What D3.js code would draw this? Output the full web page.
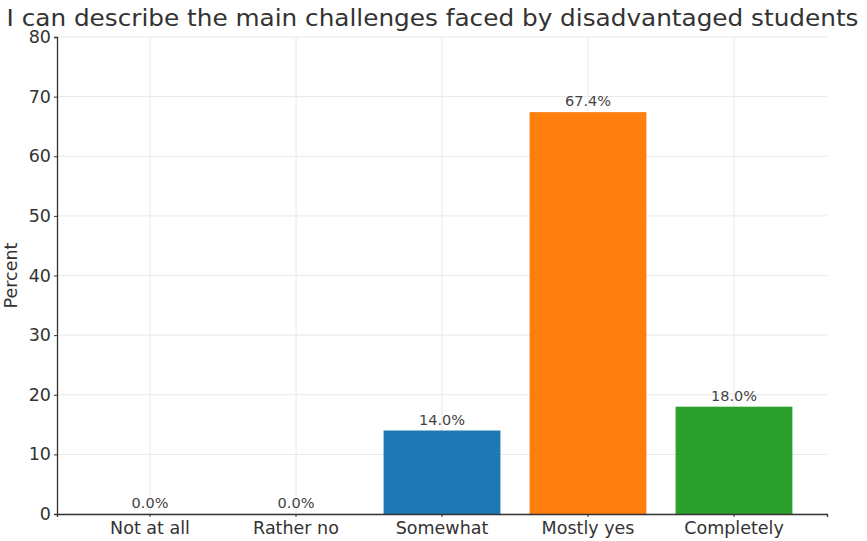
<!DOCTYPE html>
<html>
<head>
<meta charset="utf-8">
<script src="https://cdn.jsdelivr.net/npm/d3@7"></script>
<style>
  html, body { margin: 0; padding: 0; background: #fff; }
  svg { display: block; }
  text { font-family: "DejaVu Sans", sans-serif; }
</style>
</head>
<body>
<svg id="chart" width="867" height="541"></svg>
<script>
// Survey response shares
const categories = ["Not at all", "Rather no", "Somewhat", "Mostly yes", "Completely"];
const percents = [0.0, 0.0, 14.0, 67.4, 18.0];
const barColors = ["#d62728", "#9467bd", "#1f77b4", "#ff7f0e", "#2ca02c"];
const yTicks = [0, 10, 20, 30, 40, 50, 60, 70, 80];
const titleText = "I can describe the main challenges faced by disadvantaged students";

const svg = d3.select("#chart");
const margin = { left: 57, right: 40, top: 37, bottom: 27 };
const W = 867, H = 541;

const x = d3.scaleBand()
  .domain(categories)
  .range([margin.left, W - margin.right])
  .paddingInner(0.2)
  .paddingOuter(0.237);

const y = d3.scaleLinear()
  .domain([0, 80])
  .range([H - margin.bottom, margin.top]);

// grid
const grid = svg.append("g").attr("stroke", "#e8e8e8").attr("stroke-width", 1);
grid.selectAll("line.h").data(yTicks).join("line")
  .attr("x1", margin.left).attr("x2", W - margin.right)
  .attr("y1", d => y(d)).attr("y2", d => y(d));
grid.selectAll("line.v").data(categories).join("line")
  .attr("x1", d => x(d) + x.bandwidth() / 2).attr("x2", d => x(d) + x.bandwidth() / 2)
  .attr("y1", margin.top).attr("y2", H - margin.bottom);

// bars
svg.append("g").selectAll("rect").data(categories).join("rect")
  .attr("x", d => x(d))
  .attr("width", x.bandwidth())
  .attr("y", (d, i) => y(percents[i]))
  .attr("height", (d, i) => y(0) - y(percents[i]))
  .attr("fill", (d, i) => barColors[i]);

// value labels
svg.append("g").selectAll("text").data(categories).join("text")
  .attr("x", d => x(d) + x.bandwidth() / 2)
  .attr("y", (d, i) => y(percents[i]) - 6)
  .attr("text-anchor", "middle")
  .attr("font-size", 14.5)
  .attr("fill", "#444")
  .text((d, i) => percents[i].toFixed(1) + "%");

// axes
const yAxis = svg.append("g")
  .attr("transform", `translate(${margin.left},0)`)
  .call(d3.axisLeft(y).tickValues(yTicks).tickSize(3).tickPadding(3));
const xAxis = svg.append("g")
  .attr("transform", `translate(0,${H - margin.bottom})`)
  .call(d3.axisBottom(x).tickSize(3).tickPadding(5));

[yAxis, xAxis].forEach(a => {
  a.select(".domain").attr("stroke", "#333").attr("stroke-width", 1.3);
  a.selectAll(".tick line").attr("stroke", "#333");
  a.selectAll(".tick text").attr("font-size", 17.5).attr("fill", "#333")
    .attr("font-family", "DejaVu Sans, sans-serif");
});

// y label
svg.append("text")
  .attr("transform", `translate(17,${(y(0) + y(80)) / 2}) rotate(-90)`)
  .attr("text-anchor", "middle")
  .attr("font-size", 17.5)
  .attr("fill", "#333")
  .text("Percent");

// title
svg.append("text")
  .attr("x", 432.5)
  .attr("y", 26)
  .attr("text-anchor", "middle")
  .attr("font-size", 23)
  .attr("textLength", 852)
  .attr("lengthAdjust", "spacingAndGlyphs")
  .attr("fill", "#333")
  .text(titleText);
</script>
</body>
</html>
